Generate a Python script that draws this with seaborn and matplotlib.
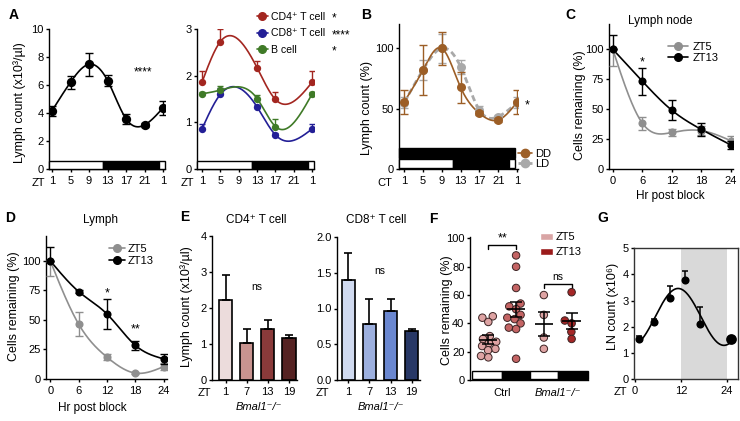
import numpy as np
import pandas as pd
import matplotlib
matplotlib.use("Agg")
import matplotlib.pyplot as plt
import seaborn as sns
from matplotlib.lines import Line2D
from matplotlib.patches import Rectangle, Patch

# ---------------- data ----------------
A_zt = [1, 5, 9, 13, 17, 21, 25]
A_ticklabels = ['1', '5', '9', '13', '17', '21', '1']
A_lymph = [4.16, 6.2, 7.48, 6.32, 3.58, 3.15, 4.38]
A_lymph_err = [0.36, 0.47, 0.83, 0.4, 0.36, 0.15, 0.5]

A2_zt = [1, 5, 13, 17, 25]
A2_cd4 = [1.86, 2.73, 2.17, 1.49, 1.86]
A2_cd4_err = [0.25, 0.26, 0.14, 0.17, 0.25]
A2_cd8 = [0.86, 1.6, 1.33, 0.73, 0.86]
A2_cd8_err = [0.1, 0.14, 0.04, 0.04, 0.1]
A2_b = [1.61, 1.69, 1.51, 0.91, 1.61]
A2_b_err = [0.03, 0.09, 0.07, 0.16, 0.03]
A2_labels = ['CD4⁺ T cell', 'CD8⁺ T cell', 'B cell']
A2_sig = ['*', '****', '*']

B_ct = [1, 5, 9, 13, 17, 21, 25]
B_dd = [55.4, 81.8, 100, 67.8, 46.3, 40.7, 55.4]
B_dd_err = [10, 20.5, 13.5, 12.8, 1.5, 1.5, 10]
B_ld = [55, 82, 100, 84.8, 49, 43.5, 55]
B_ld_err = [4.5, 8.5, 12, 5.8, 3, 1.5, 4.5]

hr = [0, 6, 12, 18, 24]
C_zt5 = [100, 38.3, 30.5, 32, 23.5]
C_zt5_lo = [14, 5.5, 3, 4, 4]
C_zt5_hi = [0, 5.5, 3, 4, 4]
C_zt13 = [100, 73.3, 49, 33, 20]
C_zt13_lo = [0, 11.3, 8, 5.5, 3]
C_zt13_hi = [12, 11.3, 8.5, 5.5, 3]

D_zt5 = [100, 46.5, 18.5, 5, 10.5]
D_zt5_lo = [12.5, 10.5, 2.5, 1, 3]
D_zt5_hi = [0, 10.5, 2.5, 1, 3]
D_zt13 = [100, 74, 55, 28.5, 17]
D_zt13_lo = [0, 1.5, 12.5, 4, 4]
D_zt13_hi = [12, 1.5, 12.5, 4, 4]

E_zt = ['1', '7', '13', '19']
E_cd4 = [2.23, 1.02, 1.43, 1.17]
E_cd4_err = [0.69, 0.39, 0.24, 0.07]
E_cd8 = [1.40, 0.78, 0.97, 0.69]
E_cd8_err = [0.37, 0.35, 0.16, 0.02]

F_groups = ['Ctrl ZT5', 'Ctrl ZT13', 'Bmal1 ZT5', 'Bmal1 ZT13']
F_ctrl_zt5 = [45, 44, 41, 31, 29, 27, 26, 24, 22, 21, 17, 16]
F_ctrl_zt13 = [88, 80, 65, 54, 52, 50, 46, 44, 43, 40, 37, 36, 15]
F_bmal_zt5 = [60, 46, 30, 22]
F_bmal_zt13 = [62, 42, 40, 34, 29]
F_xlabels = ['Ctrl', 'Bmal1⁻/⁻']

G_zt = [1, 5, 9, 13, 17, 25]
G_ln = [1.52, 2.17, 3.09, 3.77, 2.11, 1.53]
G_ln_err = [0.14, 0.12, 0.47, 0.35, 0.66, 0.0]

# ---------------- style ----------------
sns.set_theme(style="ticks")
plt.rcParams['font.family'] = ['Liberation Sans', 'DejaVu Sans']
plt.rcParams.update({
    'axes.linewidth': 1.0, 'axes.edgecolor': 'black',
    'xtick.major.width': 1.0, 'ytick.major.width': 1.0,
    'xtick.major.size': 2.5, 'ytick.major.size': 2.5,
    'xtick.major.pad': 2.5, 'ytick.major.pad': 1.5,
    'xtick.labelsize': 8, 'ytick.labelsize': 8,
    'xtick.color': 'black', 'ytick.color': 'black', 'text.color': 'black',
    'axes.facecolor': 'white',
})

W, H = 740, 421
fig = plt.figure(figsize=(W / 100, H / 100), dpi=100)


def add_ax(l, t, r, b):
    return fig.add_axes([l / W, 1 - b / H, (r - l) / W, (b - t) / H])


def ftext(x, y, s, **kw):
    kw.setdefault('ha', 'center')
    kw.setdefault('va', 'center')
    return fig.text(x / W, 1 - y / H, s, **kw)


def natural_spline(x, y, n=300):
    x = np.asarray(x, float)
    y = np.asarray(y, float)
    m = len(x)
    h = np.diff(x)
    A = np.zeros((m, m))
    rhs = np.zeros(m)
    A[0, 0] = A[-1, -1] = 1
    for i in range(1, m - 1):
        A[i, i - 1] = h[i - 1]
        A[i, i] = 2 * (h[i - 1] + h[i])
        A[i, i + 1] = h[i]
        rhs[i] = 3 * ((y[i + 1] - y[i]) / h[i] - (y[i] - y[i - 1]) / h[i - 1])
    c = np.linalg.solve(A, rhs)
    b = (y[1:] - y[:-1]) / h - h * (2 * c[:-1] + c[1:]) / 3
    d = (c[1:] - c[:-1]) / (3 * h)
    xs = np.linspace(x[0], x[-1], n)
    idx = np.clip(np.searchsorted(x, xs, side='right') - 1, 0, m - 2)
    dx = xs - x[idx]
    ys = y[idx] + b[idx] * dx + c[idx] * dx ** 2 + d[idx] * dx ** 3
    return xs, ys


def curve(ax, x, y, **kw):
    xs, ys = natural_spline(x, y)
    sns.lineplot(x=xs, y=ys, ax=ax, sort=False, estimator=None, **kw)


def ld_bar(ax, segs, y0, y1):
    tr = ax.get_xaxis_transform()
    for x0, x1, col in segs:
        ax.add_patch(Rectangle((x0, y0), x1 - x0, y1 - y0, transform=tr,
                               facecolor=col, edgecolor='black', lw=1.0,
                               clip_on=False, zorder=6))


def base(ax):
    sns.despine(ax=ax)


# ---------------- A left ----------------
ax = add_ax(49, 29, 165, 169)
base(ax)
curve(ax, A_zt, A_lymph, color='black', lw=1.2)
ax.errorbar(A_zt, A_lymph, yerr=A_lymph_err, fmt='none', ecolor='black',
            elinewidth=1, capsize=2.6, capthick=1, zorder=4)
sns.scatterplot(x=A_zt, y=A_lymph, ax=ax, color='black', s=45, linewidth=0, zorder=5)
ax.set_xlim(0.35, 25.4)
ax.set_ylim(0, 10)
ax.set_xticks(A_zt, A_ticklabels)
ax.set_yticks([0, 2, 4, 6, 8, 10])
ld_bar(ax, [(0.35, 12, 'white'), (12, 24, 'black'), (24, 25.4, 'white')], 0.0, 0.056)
ax.text(20.7, 6.9, '****', ha='center', va='center', fontsize=8.5)
ftext(38, 182.5, 'ZT', fontsize=8)
ftext(20, 103, 'Lymph count (x10³/µl)', rotation=90, fontsize=9)
ftext(14, 15, 'A', fontsize=10, fontweight='bold')

# ---------------- A right ----------------
ax = add_ax(197, 29, 314, 169)
base(ax)
colsA2 = ['#a32620', '#231f96', '#3f7a27']
handles = []
for vals, errs, col in zip([A2_cd4, A2_cd8, A2_b], [A2_cd4_err, A2_cd8_err, A2_b_err], colsA2):
    curve(ax, A2_zt, vals, color=col, lw=1.2)
    ax.errorbar(A2_zt, vals, yerr=[np.zeros(len(errs)), errs], fmt='none', ecolor=col,
                elinewidth=1, capsize=2.5, capthick=1, zorder=4)
    sns.scatterplot(x=A2_zt, y=vals, ax=ax, color=col, s=28, linewidth=0, zorder=5)
    handles.append(Line2D([], [], color=col, lw=1.2, marker='o', ms=5.5))
ax.set_xlim(-0.09, 25.4)
ax.set_ylim(0, 3)
ax.set_xticks(A_zt, A_ticklabels)
ax.set_yticks([0, 1, 2, 3])
ld_bar(ax, [(-0.09, 12, 'white'), (12, 24, 'black'), (24, 25.4, 'white')], 0.0, 0.056)
ax.legend(handles, A2_labels, loc='center left', bbox_to_anchor=(256.5 / W, 1 - 33.3 / H),
          bbox_transform=fig.transFigure, frameon=False, fontsize=7.6, handlelength=1.1,
          handletextpad=0.3, borderpad=0, borderaxespad=0, labelspacing=0.6)
for s, yy in zip(A2_sig, [18.5, 35, 51.5]):
    ftext(332, yy, s, ha='left', fontsize=8.5)
ftext(187, 182.5, 'ZT', fontsize=8)

# ---------------- B ----------------
ax = add_ax(399, 24, 518, 169.3)
base(ax)
brown = '#9c5e26'
ldgray = '#a9a9a9'
curve(ax, B_ct, B_ld, color=ldgray, lw=2.0, linestyle=(0, (2.2, 1.3)))
ax.errorbar(B_ct, B_ld, yerr=B_ld_err, fmt='none', ecolor=ldgray, elinewidth=1,
            capsize=2.6, capthick=1, zorder=3)
sns.scatterplot(x=B_ct, y=B_ld, ax=ax, color=ldgray, s=42, linewidth=0, zorder=3.5)
curve(ax, B_ct, B_dd, color=brown, lw=1.2)
ax.errorbar(B_ct, B_dd, yerr=B_dd_err, fmt='none', ecolor=brown, elinewidth=1,
            capsize=2.6, capthick=1, zorder=4)
sns.scatterplot(x=B_ct, y=B_dd, ax=ax, color=brown, s=42, linewidth=0, zorder=5)
ax.set_xlim(-0.06, 25.2)
ax.set_ylim(0, 120)
ax.set_xticks(B_ct, A_ticklabels)
ax.set_yticks([0, 50, 100])
ld_bar(ax, [(-0.06, 24.6, 'black')], 0.078, 0.145)
ld_bar(ax, [(-0.06, 11.3, 'white'), (11.3, 23.3, 'black'), (23.3, 24.6, 'white')], 0.011, 0.069)
hB = [Line2D([], [], color=brown, lw=1.2, marker='o', ms=6),
      Line2D([], [], color=ldgray, lw=2.0, linestyle=(0, (2.2, 1.3)), marker='o', ms=6)]
ax.legend(hB, ['DD', 'LD'], loc='center left', bbox_to_anchor=(518 / W, 1 - 158.6 / H),
          bbox_transform=fig.transFigure, frameon=False, fontsize=8, handlelength=1.3,
          handletextpad=0.25, borderpad=0, borderaxespad=0, labelspacing=0.0)
ax.text(27.2, 53, '*', ha='center', va='center', fontsize=9, clip_on=False)
ftext(385, 182.5, 'CT', fontsize=8)
ftext(367, 108, 'Lymph count (%)', rotation=90, fontsize=9)
ftext(366, 15, 'B', fontsize=10, fontweight='bold')

# ---------------- C ----------------
grayZ = '#8f8f8f'
ax = add_ax(609, 24, 733, 169)
base(ax)
curve(ax, hr, C_zt5, color=grayZ, lw=1.2)
ax.errorbar(hr, C_zt5, yerr=[C_zt5_lo, C_zt5_hi], fmt='none', ecolor=grayZ, elinewidth=1,
            capsize=2.6, capthick=1, zorder=3)
sns.scatterplot(x=hr, y=C_zt5, ax=ax, color=grayZ, s=34, linewidth=0, zorder=3.5)
curve(ax, hr, C_zt13, color='black', lw=1.2)
ax.errorbar(hr, C_zt13, yerr=[C_zt13_lo, C_zt13_hi], fmt='none', ecolor='black', elinewidth=1,
            capsize=2.6, capthick=1, zorder=4)
sns.scatterplot(x=hr, y=C_zt13, ax=ax, color='black', s=34, linewidth=0, zorder=5)
ax.set_xlim(-0.75, 24.4)
ax.set_ylim(0, 121)
ax.set_xticks(hr)
ax.set_yticks([0, 25, 50, 75, 100])
ax.text(6, 89, '*', ha='center', va='center', fontsize=9)
hC = [Line2D([], [], color=grayZ, lw=1.2, marker='o', ms=5.5),
      Line2D([], [], color='black', lw=1.2, marker='o', ms=5.5)]
ax.legend(hC, ['ZT5', 'ZT13'], loc='center left', bbox_to_anchor=(668 / W, 1 - 52.5 / H),
          bbox_transform=fig.transFigure, frameon=False, fontsize=8, handlelength=1.8,
          handletextpad=0.45, borderpad=0, borderaxespad=0, labelspacing=0.15)
ftext(660, 21, 'Lymph node', fontsize=8.5)
ftext(670, 196, 'Hr post block', fontsize=8.5)
ftext(580, 105, 'Cells remaining (%)', rotation=90, fontsize=9)
ftext(570, 15, 'C', fontsize=10, fontweight='bold')

# ---------------- D ----------------
ax = add_ax(46, 236, 167, 379)
base(ax)
curve(ax, hr, D_zt5, color=grayZ, lw=1.2)
ax.errorbar(hr, D_zt5, yerr=[D_zt5_lo, D_zt5_hi], fmt='none', ecolor=grayZ, elinewidth=1,
            capsize=2.6, capthick=1, zorder=3)
sns.scatterplot(x=hr, y=D_zt5, ax=ax, color=grayZ, s=34, linewidth=0, zorder=3.5)
curve(ax, hr, D_zt13, color='black', lw=1.2)
ax.errorbar(hr, D_zt13, yerr=[D_zt13_lo, D_zt13_hi], fmt='none', ecolor='black', elinewidth=1,
            capsize=2.6, capthick=1, zorder=4)
sns.scatterplot(x=hr, y=D_zt13, ax=ax, color='black', s=34, linewidth=0, zorder=5)
ax.set_xlim(-0.9, 24.7)
ax.set_ylim(0, 121)
ax.set_xticks(hr)
ax.set_yticks([0, 25, 50, 75, 100])
ax.text(12, 72, '*', ha='center', va='center', fontsize=9)
ax.text(18, 42, '**', ha='center', va='center', fontsize=9)
ax.legend(hC, ['ZT5', 'ZT13'], loc='center left', bbox_to_anchor=(109 / W, 1 - 254.7 / H),
          bbox_transform=fig.transFigure, frameon=False, fontsize=8, handlelength=1.4,
          handletextpad=0.3, borderpad=0, borderaxespad=0, labelspacing=0.2)
ftext(100, 220, 'Lymph', fontsize=8.5)
ftext(92, 407.5, 'Hr post block', fontsize=8.5)
ftext(14, 306.5, 'Cells remaining (%)', rotation=90, fontsize=9)
ftext(10, 218, 'D', fontsize=10, fontweight='bold')

# ---------------- E ----------------
cd4_pal = ['#ecdcdc', '#c99490', '#8a3a3a', '#552222']
cd8_pal = ['#d0daf0', '#9db0df', '#6a87d0', '#283866']
panels = [
    ((212, 236, 297, 380), E_cd4, E_cd4_err, cd4_pal, (-0.64, 3.38), (0, 4), [0, 1, 2, 3, 4],
     ['0', '1', '2', '3', '4'], 'CD4⁺ T cell', 256, 2.58, 204, 259),
    ((337, 237, 420, 380), E_cd8, E_cd8_err, cd8_pal, (-0.54, 3.4), (0, 2), [0, 0.5, 1, 1.5, 2],
     ['0.0', '0.5', '1.0', '1.5', '2.0'], 'CD8⁺ T cell', 376, 1.53, 322, 381),
]
for rect, vals, errs, pal, xl, yl, yt, ytl, title, tx, nsy, ztx, bmx in panels:
    ax = add_ax(*rect)
    base(ax)
    sns.barplot(x=E_zt, y=vals, hue=E_zt, palette=pal, order=E_zt, hue_order=E_zt,
                legend=False, ax=ax, width=0.63, edgecolor='black', linewidth=1.2,
                errorbar=None, saturation=1)
    ax.errorbar(range(len(vals)), vals, yerr=[np.zeros(len(errs)), errs], fmt='none',
                ecolor='black', elinewidth=1.2, capsize=3, capthick=1.2, zorder=1)
    ax.set_xlim(*xl)
    ax.set_ylim(*yl)
    ax.set_yticks(yt, ytl)
    ax.set_xlabel('')
    ax.set_ylabel('')
    ax.text(1.5, nsy, 'ns', ha='center', va='center', fontsize=7.5)
    ftext(tx, 220, title, fontsize=8.5)
    ftext(ztx, 393, 'ZT', fontsize=8)
    ftext(bmx, 407, 'Bmal1⁻/⁻', fontsize=8, style='italic')
ftext(187, 306.5, 'Lymph count (x10³/µl)', rotation=90, fontsize=9)
ftext(185, 217, 'E', fontsize=10, fontweight='bold')

# ---------------- F ----------------
F_values = [F_ctrl_zt5, F_ctrl_zt13, F_bmal_zt5, F_bmal_zt13]
dfF = pd.DataFrame({'group': np.repeat(F_groups, [len(v) for v in F_values]),
                    'value': np.concatenate(F_values)})
F_pal = {'Ctrl ZT5': '#dea3a3', 'Ctrl ZT13': '#c46464', 'Bmal1 ZT5': '#dea3a3', 'Bmal1 ZT13': '#a52626'}
ax = add_ax(470, 237, 588, 380)
base(ax)
n_before = len(ax.collections)
# lay the swarm out with a compact spacing, then enlarge the dots (they overlap as in the figure)
sns.swarmplot(data=dfF, x='group', y='value', hue='group', palette=F_pal, order=F_groups,
              hue_order=F_groups, size=4.4, edgecolor='#3b2323', linewidth=0.7, legend=False, ax=ax)
ax.set_xlim(-0.66, 3.59)
ax.set_ylim(0, 101)
fig.canvas.draw()
for coll in ax.collections[n_before:]:
    if 'draw' in coll.__dict__:
        del coll.draw
    coll.set_sizes([5.4 ** 2])
    coll.set_zorder(3)
for i, v in enumerate(F_values):
    v = np.asarray(v, float)
    m = v.mean()
    se = v.std(ddof=1) / np.sqrt(len(v))
    ax.hlines(m, i - 0.33, i + 0.33, color='black', lw=1.2, zorder=5)
    ax.errorbar(i, m, yerr=se, fmt='none', ecolor='black', elinewidth=1.1, capsize=4.5,
                capthick=1.1, zorder=5)
ax.set_xticks([0.5, 2.5], F_xlabels)
ax.get_xticklabels()[1].set_style('italic')
ax.tick_params(axis='x', length=0, pad=6)
ax.set_yticks([0, 20, 40, 60, 80, 100])
ax.set_xlabel('')
ax.set_ylabel('')
ld_bar(ax, [(-0.6, 0.5, 'white'), (0.5, 1.5, 'black'), (1.5, 2.5, 'white'), (2.5, 3.59, 'black')], 0.007, 0.063)
ax.plot([0, 0, 1, 1], [92.7, 95.5, 95.5, 92.7], color='black', lw=1)
ax.text(0.5, 95.5, '**', ha='center', va='bottom', fontsize=9)
ax.plot([2, 2, 3, 3], [64.7, 67.9, 67.9, 64.7], color='black', lw=1)
ax.text(2.5, 69, 'ns', ha='center', va='bottom', fontsize=7.5)
hF = [Patch(facecolor='#d9a5a5'), Patch(facecolor='#9b1b1b')]
ax.legend(hF, ['ZT5', 'ZT13'], loc='center left', bbox_to_anchor=(540 / W, 1 - 244.5 / H),
          bbox_transform=fig.transFigure, frameon=False, fontsize=8, handlelength=1.2,
          handleheight=0.6, handletextpad=0.2, borderpad=0, borderaxespad=0, labelspacing=0.45)
ftext(446.7, 310, 'Cells remaining (%)', rotation=90, fontsize=9)
ftext(433, 219, 'F', fontsize=10, fontweight='bold')

# ---------------- G ----------------
ax = add_ax(634, 248, 738, 379.3)
for sp in ax.spines.values():
    sp.set_color('#333333')
ax.axvspan(12, 24, color='#d9d9d9', lw=0, zorder=0)
t = np.asarray(G_zt, float)
w = 2 * np.pi / 24
X = np.column_stack([np.ones_like(t), np.cos(w * t), np.sin(w * t)])
coef = np.linalg.lstsq(X, np.asarray(G_ln), rcond=None)[0]
ts = np.linspace(t.min(), t.max(), 300)
sns.lineplot(x=ts, y=coef[0] + coef[1] * np.cos(w * ts) + coef[2] * np.sin(w * ts),
             ax=ax, color='black', lw=1.2, sort=False, estimator=None)
ax.errorbar(G_zt, G_ln, yerr=[np.zeros(len(G_ln_err)), G_ln_err], fmt='none', ecolor='black',
            elinewidth=1.1, capsize=2.2, capthick=1.1, zorder=4)
sns.scatterplot(x=G_zt[:-1], y=G_ln[:-1], ax=ax, color='black', s=34, linewidth=0, zorder=5)
sns.scatterplot(x=G_zt[-1:], y=G_ln[-1:], ax=ax, color='black', s=60, linewidth=0, zorder=5)
ax.set_xlim(-0.3, 26.9)
ax.set_ylim(0, 5)
ax.set_xticks([0, 12, 24])
ax.set_yticks([0, 1, 2, 3, 4, 5])
ftext(620, 392.3, 'ZT', fontsize=8)
ftext(613.3, 306.5, 'LN count (x10⁶)', rotation=90, fontsize=9)
ftext(603, 218, 'G', fontsize=10, fontweight='bold')

fig.savefig('out.png', dpi=100)
